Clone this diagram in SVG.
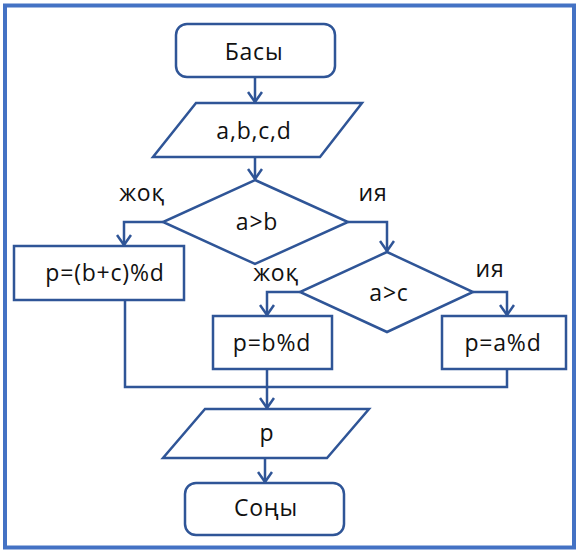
<svg xmlns="http://www.w3.org/2000/svg" width="577" height="552" viewBox="0 0 577 552">
<defs>
<style>
.frame{fill:none;stroke:#4472c4;stroke-width:4}
.shape{fill:#ffffff;stroke:#2f5597;stroke-width:2.5}
.line{fill:none;stroke:#2f5597;stroke-width:2.5}
text{font-family:"Open Sans","Liberation Sans",sans-serif;font-size:23px;letter-spacing:0.8px;fill:#111111;text-anchor:middle;dominant-baseline:central}
</style>
<marker id="arr" markerWidth="16" markerHeight="16" refX="13" refY="8" orient="auto" markerUnits="userSpaceOnUse">
<path d="M3,1 L13,8 L3,15" fill="none" stroke="#2f5597" stroke-width="2.5"/>
</marker>
</defs>
<rect class="frame" x="5" y="5.5" width="569" height="542"/>
<g id="connectors">
<line class="line" x1="255" y1="77" x2="255" y2="102" marker-end="url(#arr)"/>
<line class="line" x1="255" y1="157" x2="255" y2="179" marker-end="url(#arr)"/>
<polyline class="line" points="163,222 124,222 124,245" marker-end="url(#arr)"/>
<polyline class="line" points="348,222 387,222 387,251" marker-end="url(#arr)"/>
<polyline class="line" points="300,292 267,292 267,315" marker-end="url(#arr)"/>
<polyline class="line" points="473,292 507,292 507,315" marker-end="url(#arr)"/>
<polyline class="line" points="125,300 125,387 507,387 507,369"/>
<line class="line" x1="267" y1="369" x2="267" y2="408" marker-end="url(#arr)"/>
<line class="line" x1="265" y1="458" x2="265" y2="482" marker-end="url(#arr)"/>
</g>
<g id="start">
<rect class="shape" x="176" y="24" width="159" height="53" rx="11"/>
<text x="254" y="51">Басы</text>
</g>
<g id="input">
<polygon class="shape" points="196,103 362,103 320,157 153,157"/>
<text x="254" y="130">a,b,c,d</text>
</g>
<g id="cond1">
<polygon class="shape" points="255,180 348,222 255,264 163,222"/>
<text x="257" y="221">a&gt;b</text>
</g>
<g id="label-no1"><text x="142" y="192">жоқ</text></g>
<g id="label-yes1"><text x="373" y="192">ия</text></g>
<g id="box1">
<rect class="shape" x="14" y="246" width="170" height="54"/>
<text x="105" y="272">p=(b+c)%d</text>
</g>
<g id="cond2">
<polygon class="shape" points="387,252 473,292 387,332 300,292"/>
<text x="389" y="292">a&gt;c</text>
</g>
<g id="label-no2"><text x="276" y="272">жоқ</text></g>
<g id="label-yes2"><text x="490" y="268">ия</text></g>
<g id="box2">
<rect class="shape" x="213" y="316" width="119" height="53"/>
<text x="272" y="342">p=b%d</text>
</g>
<g id="box3">
<rect class="shape" x="442" y="316" width="124" height="53"/>
<text x="503" y="342">p=a%d</text>
</g>
<g id="output">
<polygon class="shape" points="205,409 369,409 327,458 163,458"/>
<text x="267" y="432">p</text>
</g>
<g id="end">
<rect class="shape" x="185" y="483" width="159" height="52" rx="11"/>
<text x="266" y="507">Соңы</text>
</g>
</svg>
